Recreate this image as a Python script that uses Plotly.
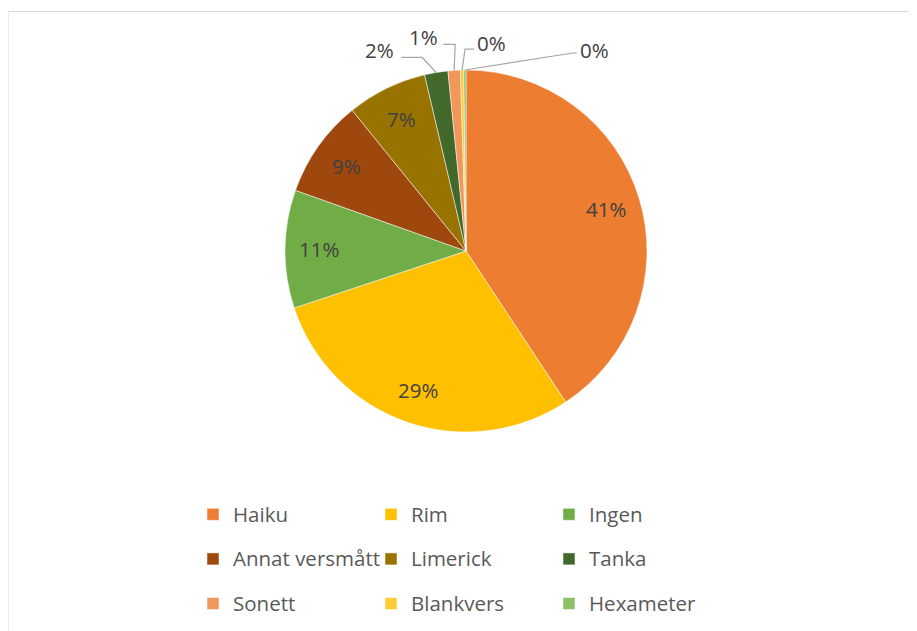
import math
import plotly.graph_objects as go

categories = ["Haiku", "Rim", "Ingen", "Annat versmått", "Limerick", "Tanka",
              "Sonett", "Blankvers", "Hexameter"]
counts = [410, 294, 106, 88, 72, 21, 11, 3, 2]
colors = ["#ED7D31", "#FFC000", "#70AD47", "#9E480E", "#997300", "#43682B",
          "#F1975A", "#FFCD33", "#8CC168"]

# small slices get an outside label with an elbow leader line
# (elbow dx, line dy, line end dx, label anchor, label dx, label dy) in px from slice edge
outside_style = {
    "Tanka":     (-14, -15, -35, "right", -40, -22),
    "Sonett":    (1, -26, -11, "right", -14, -33),
    "Blankvers": (3, -21, 12, "left", 13, -27),
    "Hexameter": (108, -17, 112, "left", 113, -20),
}
INSIDE_R = 0.81  # inside labels sit at this fraction of the radius

FONT = "Open Sans"
TXT = "#404040"
FS = 20.5
W, H = 917, 631
OFF = 8  # page body margin offset of the figure in the screenshot
ML, MR, MT, MB = 158, 159, 62, 207
PW, PH = W - ML - MR, H - MT - MB
R = min(PW, PH) / 2

legend_names = [f'<span style="font-size:{FS}px;baseline-shift:5px">{c}</span>' for c in categories]
total = sum(counts)

fig = go.Figure(go.Pie(
    labels=legend_names,
    values=counts,
    sort=False,
    direction="clockwise",
    rotation=0,
    marker=dict(colors=colors, line=dict(color="white", width=0.5)),
    textinfo="none",
    hoverinfo="label+percent",
))


def px_to_paper(px, py):
    """screen px (page coords) -> paper coords"""
    return (px - OFF - ML) / PW, 1 - (py - OFF - MT) / PH


CX, CY = OFF + ML + PW / 2, OFF + MT + PH / 2

annotations = []
shapes = []
cum = 0
for c, v in zip(categories, counts):
    mid = (cum + v / 2) / total * 2 * math.pi
    cum += v
    label = f"{round(100 * v / total)}%"
    if c not in outside_style:
        pt = px_to_paper(CX + INSIDE_R * R * math.sin(mid), CY - INSIDE_R * R * math.cos(mid))
        annotations.append(dict(
            x=pt[0], y=pt[1], xref="paper", yref="paper", text=label, showarrow=False,
            xanchor="center", yanchor="middle",
            font=dict(family=FONT, size=FS, color=TXT)))
        continue
    ex = CX + R * math.sin(mid)
    ey = CY - R * math.cos(mid)
    edx, ldy, endx, anchor, tdx, tdy = outside_style[c]
    p0 = px_to_paper(ex, ey)
    p1 = px_to_paper(ex + edx, ey + ldy)
    p2 = px_to_paper(ex + endx, ey + ldy)
    shapes.append(dict(
        type="path", xref="paper", yref="paper",
        path=f"M {p0[0]} {p0[1]} L {p1[0]} {p1[1]} L {p2[0]} {p2[1]}",
        line=dict(color="#A6A6A6", width=1.2)))
    pt = px_to_paper(ex + tdx, ey + tdy)
    annotations.append(dict(
        x=pt[0], y=pt[1], xref="paper", yref="paper", text=label, showarrow=False,
        xanchor=anchor, yanchor="middle",
        font=dict(family=FONT, size=FS, color=TXT)))

# chart frame (only top and left edges visible in the crop)
fx0, fy0 = px_to_paper(8, 11.5)
fx1, fy1 = px_to_paper(W + OFF, H + OFF)
shapes += [
    dict(type="line", xref="paper", yref="paper", x0=fx0, x1=fx1, y0=fy0, y1=fy0,
         line=dict(color="#D9D9D9", width=1)),
    dict(type="line", xref="paper", yref="paper", x0=fx0, x1=fx0, y0=fy0, y1=fy1,
         line=dict(color="#D9D9D9", width=1)),
]

lx, ly = px_to_paper(193, 487)
fig.update_layout(
    width=W, height=H,
    margin=dict(l=ML, r=MR, t=MT, b=MB, autoexpand=False),
    paper_bgcolor="white",
    plot_bgcolor="white",
    font=dict(family=FONT, color="#595959"),
    showlegend=True,
    legend=dict(
        orientation="h",
        x=lx, xanchor="left",
        y=ly, yanchor="top",
        entrywidth=133, entrywidthmode="pixels",
        font=dict(family=FONT, size=32, color="#595959"),
        bgcolor="rgba(0,0,0,0)",
    ),
    shapes=shapes,
    annotations=annotations,
)

fig.write_html("out.html")
